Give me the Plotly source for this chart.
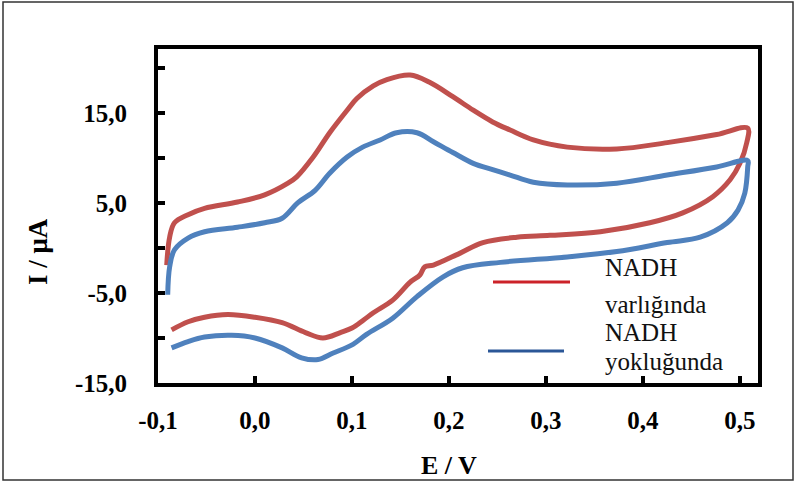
import plotly.graph_objects as go

# NADH varlığında (red)
red_E = [-0.091, -0.088, -0.083, -0.069, -0.052, -0.018, 0.010, 0.034, 0.043, 0.060,
         0.077, 0.095, 0.105, 0.122, 0.136, 0.160, 0.180, 0.204, 0.225, 0.245, 0.263,
         0.287, 0.322, 0.373, 0.425, 0.476, 0.508, 0.507, 0.500, 0.490, 0.472,
         0.441, 0.407, 0.356, 0.304, 0.270, 0.235, 0.211, 0.184, 0.175, 0.170,
         0.160, 0.142, 0.122, 0.112, 0.100, 0.088, 0.070, 0.052, 0.028, 0.000, -0.028,
         -0.052, -0.069, -0.086]
red_I = [-1.9, 1.2, 2.8, 3.7, 4.4, 5.1, 5.9, 7.2, 7.9, 10.1,
         12.8, 15.3, 16.6, 18.0, 18.7, 19.2, 18.4, 16.8, 15.3, 14.0, 13.1,
         12.0, 11.2, 11.0, 11.7, 12.6, 13.3, 11.7, 9.4, 7.6, 5.7,
         3.9, 2.8, 1.8, 1.4, 1.2, 0.6, -0.6, -1.9, -2.1, -3.0,
         -3.8, -5.8, -7.2, -8.0, -8.9, -9.4, -10.0, -9.4, -8.3, -7.7, -7.4,
         -7.7, -8.2, -9.1]

# NADH yokluğunda (blue)
blue_E = [-0.090, -0.088, -0.083, -0.069, -0.052, -0.018, 0.010, 0.028, 0.044, 0.062,
          0.077, 0.095, 0.111, 0.129, 0.146, 0.167, 0.184, 0.204, 0.225, 0.245,
          0.263, 0.287, 0.322, 0.373, 0.425, 0.476, 0.508, 0.508, 0.505, 0.498,
          0.487, 0.459, 0.425, 0.373, 0.322, 0.253, 0.214, 0.194, 0.167, 0.142,
          0.115, 0.101, 0.080, 0.065, 0.048, 0.028, 0.000, -0.024, -0.052, -0.069,
          -0.086]
blue_I = [-5.2, -2.1, -0.2, 1.1, 1.8, 2.3, 2.8, 3.3, 5.0, 6.4,
          8.3, 10.1, 11.2, 12.0, 12.8, 12.8, 11.8, 10.6, 9.4, 8.7,
          8.1, 7.3, 7.0, 7.2, 8.1, 9.0, 9.7, 9.0, 6.1, 4.2,
          2.8, 1.2, 0.6, -0.4, -1.0, -1.6, -2.2, -3.2, -5.4, -7.8,
          -9.6, -10.7, -11.7, -12.4, -12.2, -11.1, -10.0, -9.7, -9.9, -10.4,
          -11.1]

x_ticks = [-0.1, 0.0, 0.1, 0.2, 0.3, 0.4, 0.5]
x_labels = ["-0,1", "0,0", "0,1", "0,2", "0,3", "0,4", "0,5"]
y_ticks = [-15, -10, -5, 0, 5, 10, 15, 20]
y_labels = ["-15,0", "", "-5,0", "", "5,0", "", "15,0", ""]

legend_names = ["NADH varlığında", "NADH yokluğunda"]

RED = "#C0504D"
BLUE = "#4F81BD"
SERIF = "Liberation Serif, Times New Roman, serif"

fig = go.Figure()
fig.add_trace(go.Scatter(x=red_E, y=red_I, mode="lines", name=legend_names[0],
                         line=dict(color=RED, width=5, shape="spline", smoothing=1.0),
                         showlegend=False))
fig.add_trace(go.Scatter(x=blue_E, y=blue_I, mode="lines", name=legend_names[1],
                         line=dict(color=BLUE, width=5, shape="spline", smoothing=1.0),
                         showlegend=False))

L, R, T, B = 158, 758, 49, 383
W, H = 795, 483
def px(xp):
    return (xp - L) / (R - L)
def py(yp):
    return (B - yp) / (B - T)

fig.update_layout(
    width=W, height=H,
    margin=dict(l=L, r=W - R, t=T, b=H - B),
    paper_bgcolor="white", plot_bgcolor="white",
    font=dict(family=SERIF, color="black"),
    xaxis=dict(range=[-0.1, 0.5186], tickvals=x_ticks, ticktext=x_labels,
               ticks="inside", ticklen=7, tickwidth=4, tickcolor="black",
               showline=True, linewidth=4, linecolor="black", mirror=True,
               showgrid=False, zeroline=False,
               tickfont=dict(family=SERIF, size=25, color="black", weight="bold"),
               ticklabelstandoff=12),
    yaxis=dict(range=[-15, 22.1], tickvals=y_ticks, ticktext=y_labels,
               ticks="inside", ticklen=7, tickwidth=4, tickcolor="black",
               showline=True, linewidth=4, linecolor="black", mirror=True,
               showgrid=False, zeroline=False,
               tickfont=dict(family=SERIF, size=25, color="black", weight="bold"),
               ticklabelstandoff=22),
)

# axis titles
fig.add_annotation(text="E / V", xref="paper", yref="paper", x=px(449), y=py(465),
                   showarrow=False, xanchor="center", yanchor="middle",
                   font=dict(family=SERIF, size=26, color="black", weight="bold"))
fig.add_annotation(text="I / μA", xref="paper", yref="paper", x=px(38), y=py(252),
                   showarrow=False, xanchor="center", yanchor="middle", textangle=-90,
                   font=dict(family=SERIF, size=27, color="black", weight="bold"))

# legend (drawn manually)
fig.add_shape(type="line", xref="paper", yref="paper", x0=px(493), x1=px(570),
              y0=py(282), y1=py(282), line=dict(color="#CC2229", width=3))
fig.add_shape(type="line", xref="paper", yref="paper", x0=px(488), x1=px(564),
              y0=py(351), y1=py(351), line=dict(color="#2B5797", width=3))
leg_font = dict(family=SERIF, size=25, color="#111111")
for txt, yc in [("NADH", 267), ("varlığında", 304), ("NADH", 332), ("yokluğunda", 361)]:
    fig.add_annotation(text=txt, xref="paper", yref="paper", x=px(603), y=py(yc),
                       showarrow=False, xanchor="left", yanchor="middle", font=leg_font)

# outer frame
fig.add_shape(type="rect", xref="paper", yref="paper", x0=px(3), x1=px(793),
              y0=py(480), y1=py(2), line=dict(color="#333333", width=1.5), layer="below")

fig.write_html("out.html", config={"displayModeBar": False},
               post_script="document.body.style.margin='0';document.body.style.overflow='hidden';")
